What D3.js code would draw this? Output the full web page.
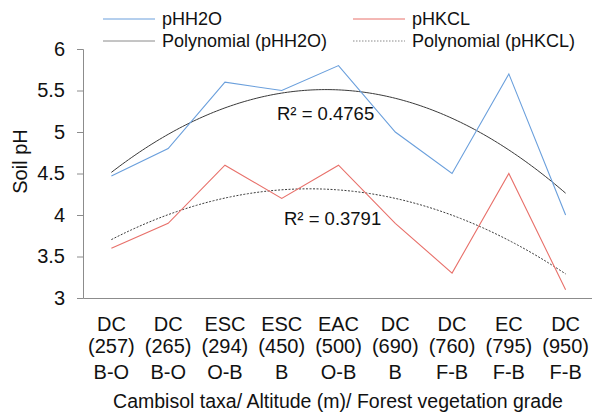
<!DOCTYPE html>
<html><head><meta charset="utf-8">
<script src="https://cdn.jsdelivr.net/npm/d3@7"></script>
<style>body{margin:0;background:#fff;} svg{font-family:"Liberation Sans",Arial,sans-serif;}</style>
</head><body>
<svg id="c" width="592" height="413"></svg>
<script>
const taxa = ["DC","DC","ESC","ESC","EAC","DC","DC","EC","DC"];
const altitude = ["(257)","(265)","(294)","(450)","(500)","(690)","(760)","(795)","(950)"];
const grade = ["B-O","B-O","O-B","B","O-B","B","F-B","F-B","F-B"];
const pHH2O = [4.47,4.8,5.6,5.5,5.8,5.0,4.5,5.7,4.0];
const pHKCL = [3.6,3.9,4.6,4.2,4.6,3.9,3.3,4.5,3.1];
const yTicks = [3,3.5,4,4.5,5,5.5,6];
const r2H2O = "R² = 0.4765";
const r2KCL = "R² = 0.3791";

(function(){
const svg = d3.select("#c");
const mLeft = 83, mRight = 594, mTop = 49, mBottom = 298;
const idx = d3.range(taxa.length);
const x = d3.scaleBand().domain(idx).range([mLeft, mRight]);
const cx = i => x(i) + x.bandwidth()/2;
const y = d3.scaleLinear().domain([3,6]).range([mBottom, mTop]);
const axisCol = "#8c8c8c";
const txt = "#111";

const ya = svg.append("g").attr("transform",`translate(${mLeft},0)`)
  .call(d3.axisLeft(y).tickValues(yTicks).tickSize(6).tickPadding(12).tickFormat(d3.format("")));
ya.select(".domain").attr("stroke",axisCol);
ya.selectAll(".tick line").attr("stroke",axisCol);
ya.selectAll(".tick text").attr("font-size",20).attr("fill",txt).attr("font-family","Liberation Sans, Arial, sans-serif");

const xa = svg.append("g").attr("transform",`translate(0,${mBottom})`)
  .call(d3.axisBottom(x).tickSize(0).tickFormat(""));
xa.select(".domain").attr("stroke",axisCol);

const lab = svg.append("g").attr("font-size",20).attr("fill",txt).attr("text-anchor","middle");
idx.forEach(i=>{
  lab.append("text").attr("x",cx(i)).attr("y",331).text(taxa[i]);
  lab.append("text").attr("x",cx(i)).attr("y",353).text(altitude[i]);
  lab.append("text").attr("x",cx(i)).attr("y",379).text(grade[i]);
});
svg.append("text").attr("x",338).attr("y",408).attr("text-anchor","middle")
  .attr("font-size",19.5).attr("fill",txt).text("Cambisol taxa/ Altitude (m)/ Forest vegetation grade");
svg.append("text").attr("transform","translate(27,161.5) rotate(-90)").attr("text-anchor","middle")
  .attr("font-size",20).attr("fill",txt).text("Soil pH");

function quadFit(ys){
  const xs = ys.map((_,i)=>i+1);
  let S=[0,0,0,0,0], T=[0,0,0];
  xs.forEach((xv,i)=>{ for(let k=0;k<5;k++) S[k]+=Math.pow(xv,k); for(let k=0;k<3;k++) T[k]+=ys[i]*Math.pow(xv,k); });
  const A=[[S[0],S[1],S[2],T[0]],[S[1],S[2],S[3],T[1]],[S[2],S[3],S[4],T[2]]];
  for(let i=0;i<3;i++){ for(let j=i+1;j<3;j++){ const f=A[j][i]/A[i][i]; for(let k=i;k<4;k++) A[j][k]-=f*A[i][k]; } }
  const c=[0,0,0];
  for(let i=2;i>=0;i--){ let s=A[i][3]; for(let k=i+1;k<3;k++) s-=A[i][k]*c[k]; c[i]=s/A[i][i]; }
  return t => c[0]+c[1]*t+c[2]*t*t;
}
const fH = quadFit(pHH2O), fK = quadFit(pHKCL);
const tpts = d3.range(0, 8.0001, 0.05);
const fitLine = f => d3.line().x(t => cx(0) + t*x.step()).y(t => y(f(t+1)));

const lineGen = d3.line().x((d,i)=>cx(i)).y(d=>y(d));
svg.append("path").attr("d",fitLine(fH)(tpts)).attr("fill","none").attr("stroke","#3a3a3a").attr("stroke-width",1);
svg.append("path").attr("d",fitLine(fK)(tpts)).attr("fill","none").attr("stroke","#3a3a3a").attr("stroke-width",1).attr("stroke-dasharray","2,1.5");
svg.append("path").attr("d",lineGen(pHH2O)).attr("fill","none").attr("stroke","#6a9fdc").attr("stroke-width",1.1);
svg.append("path").attr("d",lineGen(pHKCL)).attr("fill","none").attr("stroke","#e8706a").attr("stroke-width",1.1);

svg.append("text").attr("x",277).attr("y",120).attr("font-size",18.5).attr("fill",txt).text(r2H2O);
svg.append("text").attr("x",284).attr("y",225).attr("font-size",18.5).attr("fill",txt).text(r2KCL);

const leg = [
  {x1:103,x2:155,y:19,col:"#6a9fdc",dash:null,t:"pHH2O"},
  {x1:353,x2:405,y:19,col:"#e8706a",dash:null,t:"pHKCL"},
  {x1:103,x2:155,y:41,col:"#8a8a8a",dash:null,t:"Polynomial (pHH2O)"},
  {x1:353,x2:405,y:41,col:"#8a8a8a",dash:"1.5,1.5",t:"Polynomial (pHKCL)"}
];
leg.forEach(l=>{
  svg.append("line").attr("x1",l.x1).attr("x2",l.x2).attr("y1",l.y).attr("y2",l.y)
    .attr("stroke",l.col).attr("stroke-width",1).attr("stroke-dasharray",l.dash);
  svg.append("text").attr("x",l.x2+7).attr("y",l.y+6).attr("font-size",18).attr("fill",txt).text(l.t);
});
})();
</script>
</body></html>
